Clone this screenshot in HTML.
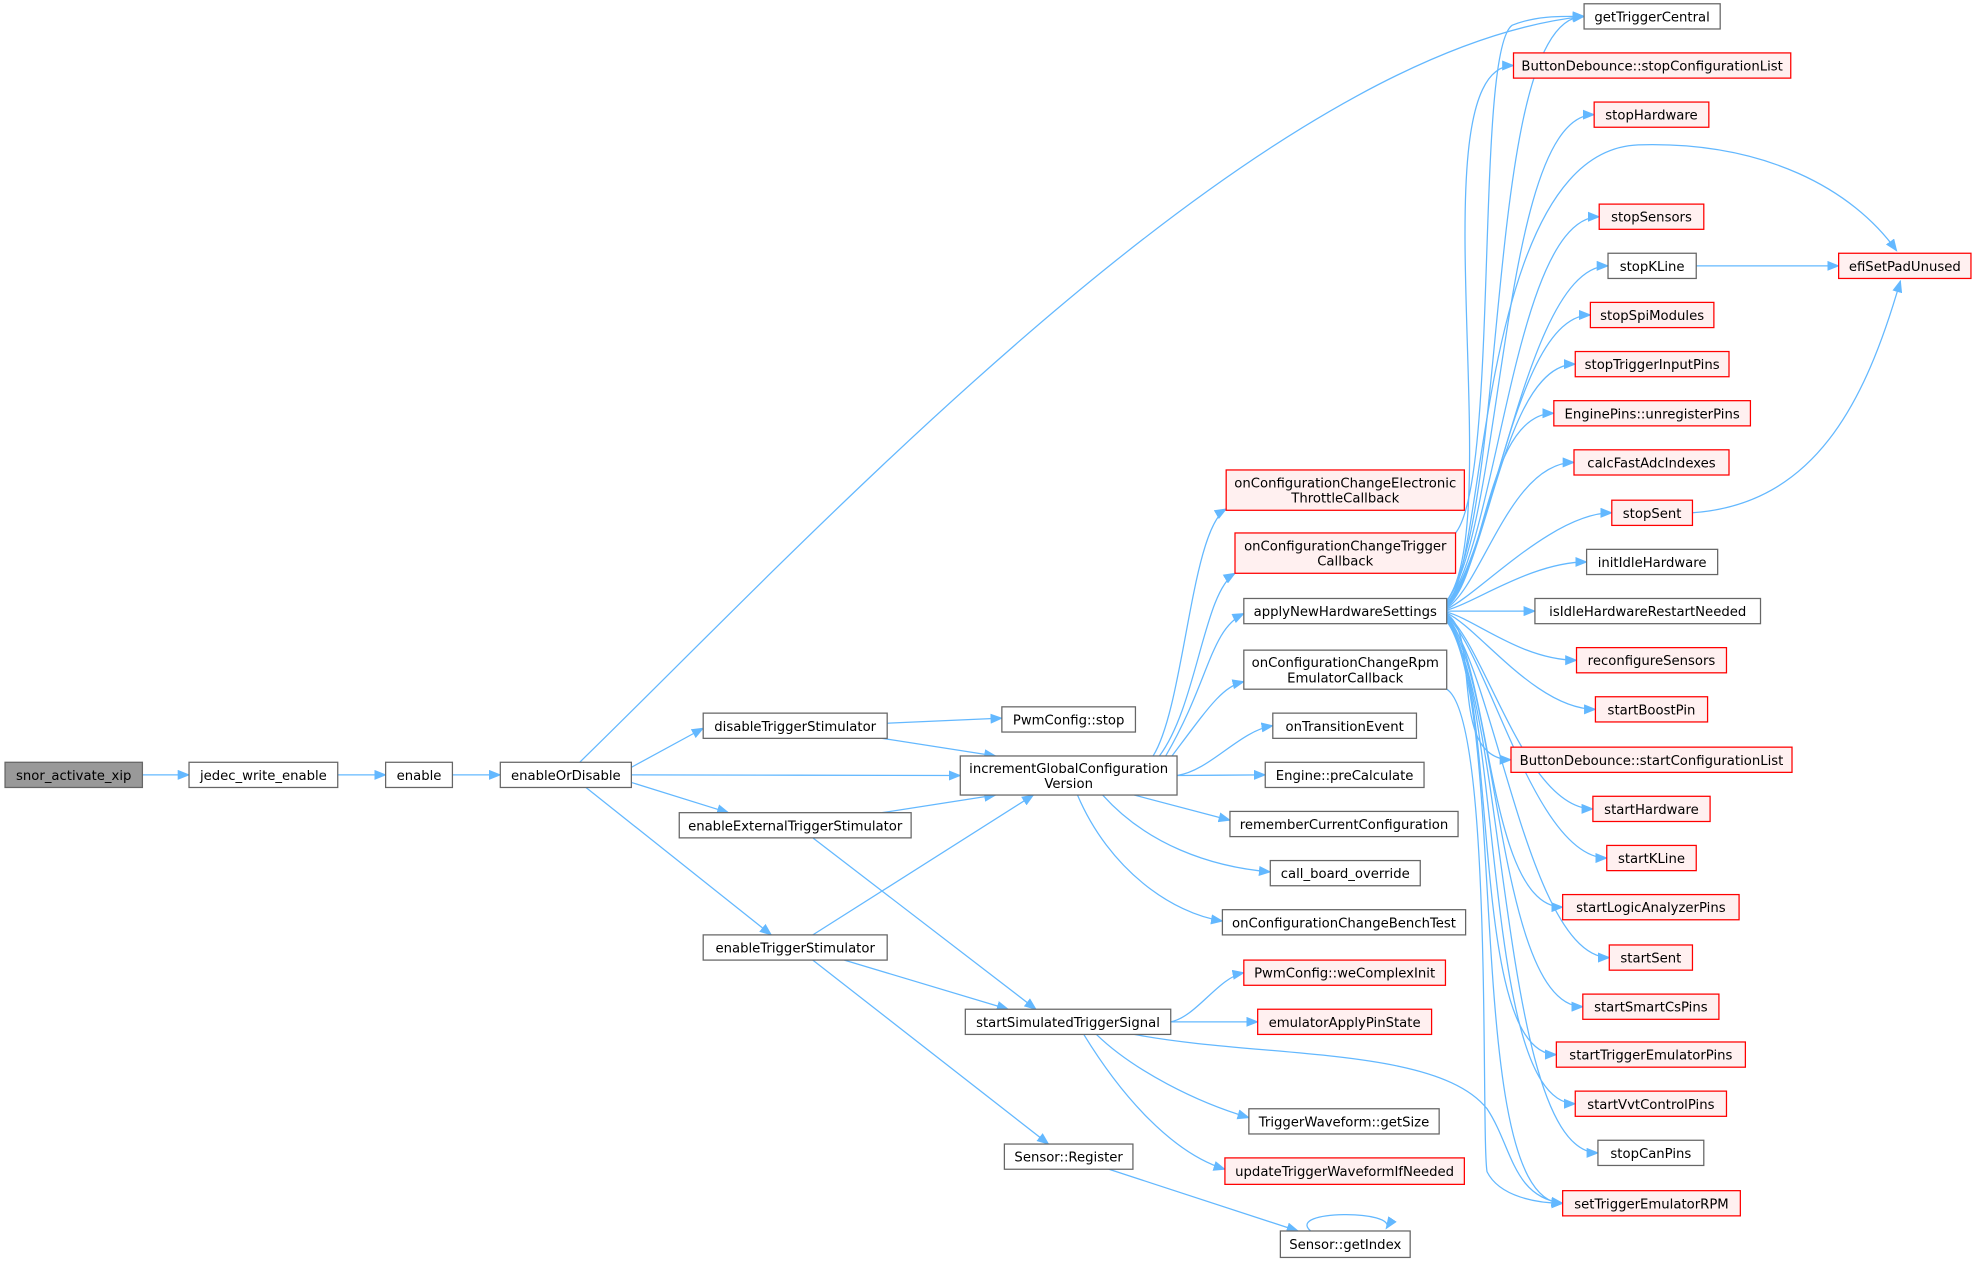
<!DOCTYPE html>
<html><head><meta charset="utf-8"><style>
html,body{margin:0;padding:0;background:#fff}
svg{display:block}
text{font-family:"DejaVu Sans","Liberation Sans",sans-serif;font-size:10.5px;fill:#000}
</style></head><body>
<svg id="s" width="1976" height="1265" viewBox="0 0 1568 1004" preserveAspectRatio="none" xmlns="http://www.w3.org/2000/svg">
<defs><marker id="a" markerWidth="10" markerHeight="8" refX="9" refY="4" orient="auto" markerUnits="userSpaceOnUse"><path d="M0,0 L10,4 L0,8 z" fill="#63b8ff"/></marker></defs>
<g id="e"></g><g id="n"></g>
</svg>
<script>
const N={
snor:[4,113,605,625,["snor_activate_xip"],"g"],
jedec:[150,268,605,625,["jedec_write_enable"]],
enable:[306,359,605,625,["enable"]],
eod:[397,501,605,625,["enableOrDisable"]],
dts:[558,704,566,586,["disableTriggerStimulator"]],
ets:[539,723,645,665,["enableExternalTriggerStimulator"]],
ts:[558,704,742,762,["enableTriggerStimulator"]],
pstop:[795,901,561,581,["PwmConfig::stop"]],
inc:[762,934,600,631,["incrementGlobalConfiguration","Version"]],
sim:[766,929,801,821,["startSimulatedTriggerSignal"]],
reg:[797,899,908,928,["Sensor::Register"]],
gi:[1016,1119,977,998,["Sensor::getIndex"]],
etc:[973,1162,373,405,["onConfigurationChangeElectronic","ThrottleCallback"],"r"],
trig:[980,1155,423,455,["onConfigurationChangeTrigger","Callback"],"r"],
anh:[987,1148,475,495,["applyNewHardwareSettings"]],
rpm:[987,1148,516,547,["onConfigurationChangeRpm","EmulatorCallback"]],
tr:[1010,1124,566,586,["onTransitionEvent"]],
pre:[1004,1130,605,625,["Engine::preCalculate"]],
rem:[976,1157,644,664,["rememberCurrentConfiguration"]],
cbo:[1008,1127,683,703,["call_board_override"]],
bt:[970,1163,722,742,["onConfigurationChangeBenchTest"]],
wci:[987,1147,762,782,["PwmConfig::weComplexInit"],"r"],
eaps:[998,1136,801,821,["emulatorApplyPinState"],"r"],
gs:[991,1142,880,900,["TriggerWaveform::getSize"]],
utw:[972,1162,919,940,["updateTriggerWaveformIfNeeded"],"r"],
gtc:[1257,1365,3,23,["getTriggerCentral"]],
bds:[1201,1421,42,62,["ButtonDebounce::stopConfigurationList"],"r"],
sh:[1265,1356,81,101,["stopHardware"],"r"],
ss:[1269,1352,162,182,["stopSensors"],"r"],
skl:[1276,1346,201,221,["stopKLine"]],
ssm:[1262,1360,240,260,["stopSpiModules"],"r"],
stip:[1250,1372,279,299,["stopTriggerInputPins"],"r"],
eup:[1233,1389,318,338,["EnginePins::unregisterPins"],"r"],
cfa:[1249,1372,357,377,["calcFastAdcIndexes"],"r"],
ssent:[1279,1343,397,417,["stopSent"],"r"],
iih:[1259,1363,436,456,["initIdleHardware"]],
iihr:[1218,1397,475,495,["isIdleHardwareRestartNeeded"]],
rs:[1251,1370,514,534,["reconfigureSensors"],"r"],
sbp:[1266,1355,553,573,["startBoostPin"],"r"],
bdst:[1199,1422,593,613,["ButtonDebounce::startConfigurationList"],"r"],
sth:[1264,1357,632,652,["startHardware"],"r"],
stk:[1275,1346,671,691,["startKLine"],"r"],
slap:[1240,1380,710,730,["startLogicAnalyzerPins"],"r"],
stse:[1277,1343,750,770,["startSent"],"r"],
scs:[1256,1364,789,809,["startSmartCsPins"],"r"],
step:[1235,1385,827,847,["startTriggerEmulatorPins"],"r"],
svvt:[1250,1370,866,886,["startVvtControlPins"],"r"],
scp:[1268,1352,905,925,["stopCanPins"]],
ster:[1240,1381,945,965,["setTriggerEmulatorRPM"],"r"],
espu:[1459,1564,201,221,["efiSetPadUnused"],"r"]
};
const P={
"eod-gtc":"M460,605 C650,420 1000,40 1257,13",
"eod-ts":"M465,625 L612,742",
"ets-sim":"M645,665 L822,801",
"ts-inc":"M645,742 L820,631",
"ts-sim":"M670,762 L800,801",
"ts-reg":"M645,762 L832,908",
"eod-dts":"M501,609 L558,578",
"eod-ets":"M501,621 L578,645",
"dts-inc":"M700,586 L790,600",
"ets-inc":"M700,645 L790,631",
"dts-pstop":"M704,574 L795,570",
"inc-cbo":"M875,631 C910,670 960,688 1008,692",
"inc-bt":"M855,631 C880,690 930,725 970,731",
"inc-rem":"M900,631 L976,651",
"inc-etc":"M915,600 C940,560 945,420 973,404",
"inc-trig":"M920,600 C950,560 955,470 980,455",
"inc-anh":"M925,600 C960,540 960,500 987,487",
"inc-rpm":"M930,600 C960,560 970,545 987,541",
"sim-gs":"M870,821 C900,850 950,875 991,887",
"sim-utw":"M860,821 C890,870 930,915 972,928",
"sim-ster":"M900,821 C1000,840 1140,830 1180,880 C1200,910 1200,950 1240,955",
"rpm-ster":"M1148,547 C1185,570 1175,900 1180,930 C1190,950 1220,955 1240,955",
"trig-gtc":"M1155,423 C1190,380 1170,40 1200,20 C1220,12 1240,13 1257,13",
"reg-gi":"M880,928 L1030,977",
"anh-espu":"M1148,478 C1180,460 1170,120 1300,115 C1400,112 1470,150 1505,199",
"ssent-espu":"M1343,407 C1440,400 1480,320 1508,223"
};
const E=[["snor","jedec"],["jedec","enable"],["enable","eod"],["eod","gtc"],["eod","dts"],["eod","inc"],["eod","ets"],["eod","ts"],
["dts","pstop"],["dts","inc"],["ets","inc"],["ets","sim"],["ts","inc"],["ts","sim"],["ts","reg"],
["inc","etc"],["inc","trig"],["inc","anh"],["inc","rpm"],["inc","tr"],["inc","pre"],["inc","rem"],["inc","cbo"],["inc","bt"],
["trig","gtc"],["rpm","ster"],["sim","wci"],["sim","eaps"],["sim","gs"],["sim","utw"],["sim","ster"],["reg","gi"],
["skl","espu"],["ssent","espu"],["anh","espu"]];
["gtc","bds","sh","ss","skl","ssm","stip","eup","cfa","ssent","iih","iihr","rs","sbp","bdst","sth","stk","slap","stse","scs","step","svvt","scp","ster"].forEach(k=>E.push(["anh",k]));
const ns="http://www.w3.org/2000/svg",ge=document.getElementById("e"),gn=document.getElementById("n");
function el(t,a,p){const e=document.createElementNS(ns,t);for(const k in a)e.setAttribute(k,a[k]);p.appendChild(e);return e;}
E.forEach(([s,t])=>{const A=N[s],B=N[t];let d=P[s+"-"+t];
 if(!d){let x1=A[1],y1=(A[2]+A[3])/2,x2=B[0],y2=(B[2]+B[3])/2;
 if(s==="anh"){const dy=y2-y1;const sy=y1+Math.max(-8,Math.min(8,dy*0.02));
   const k=Math.min(1,Math.abs(dy)/450);
   d=`M${x1},${sy} C${x1+20+30*k},${sy+dy*0.15} ${x2-40-40*k},${y2} ${x2},${y2}`;}
 else{const dx=(x2-x1)*0.35;d=`M${x1},${y1} C${x1+dx},${y1+(y2-y1)*0.1} ${x2-dx},${y2-(y2-y1)*0.1} ${x2},${y2}`;}}
 el("path",{d:d,fill:"none",stroke:"#63b8ff","stroke-width":1,"marker-end":"url(#a)"},ge);});
el("path",{d:"M1040,977 C1020,960 1110,960 1100,975",fill:"none",stroke:"#63b8ff","marker-end":"url(#a)"},ge);
for(const k in N){const [x1,x2,y1,y2,L,c]=N[k];
 el("rect",{x:x1,y:y1,width:x2-x1,height:y2-y1,fill:c==="g"?"#999":c==="r"?"#fff0f0":"#fff",stroke:c==="r"?"#f00":"#666","stroke-width":1},gn);
 const cx=(x1+x2)/2,cy=(y1+y2)/2;
 L.forEach((s,i)=>{const t=el("text",{x:cx,y:cy+4+(i-(L.length-1)/2)*12,"text-anchor":"middle"},gn);t.textContent=s;});}
</script>
</body></html>
